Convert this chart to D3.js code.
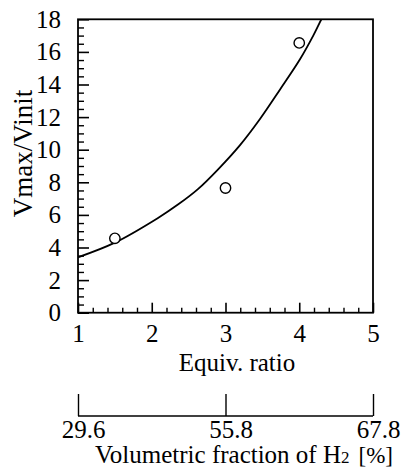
<!DOCTYPE html>
<html>
<head>
<meta charset="utf-8">
<script src="https://cdn.jsdelivr.net/npm/d3@7"></script>
<style>
  html, body { margin: 0; padding: 0; background: #fff; }
  svg { display: block; }
  svg text { font-family: "Liberation Serif", "Times New Roman", Times, "Nimbus Roman", "DejaVu Serif", serif; fill: #000; }
</style>
</head>
<body>
<svg id="chart" width="412" height="468"></svg>
<script>
// ---- data ----
const xTicks = [1, 2, 3, 4, 5];
const yTicks = [0, 2, 4, 6, 8, 10, 12, 14, 16, 18];
const measuredX = [1.5, 3, 4];
const measuredY = [4.56, 7.65, 16.55];
const fitX = [1.0, 1.5, 2.08, 2.36, 2.63, 2.9, 3.2, 3.47, 3.74, 4.01, 4.19, 4.3, 4.36];
const fitY = [3.4, 4.3, 5.8, 6.65, 7.6, 8.8, 10.3, 11.9, 13.7, 15.55, 17.0, 18.0, 18.5];
const h2Positions = [1, 3, 5];          // positions on the equiv. ratio scale
const h2Labels = ["29.6", "55.8", "67.8"];

// ---- layout ----
const FONT = '"Liberation Serif", "Times New Roman", Times, serif';
const svg = d3.select("#chart");
const L = 78, R = 373, T = 19.3, B = 312.7;
const x = d3.scaleLinear().domain([1, 5]).range([L, R]);
const y = d3.scaleLinear().domain([0, 18]).range([B, T]);

// minor ticks
const xMinor = d3.range(1, 5.0001, 0.2).filter(v => Math.abs(v - Math.round(v)) > 1e-6);
const yMinor = d3.range(0, 18.0001, 0.5).filter(v => Math.abs(v / 2 - Math.round(v / 2)) > 1e-6);

const tickFont = "25px";

function styleAxis(g) {
  g.attr("font-family", FONT).attr("font-size", null);
  g.selectAll(".tick line").attr("stroke", "#000");
  g.selectAll(".tick text").attr("font-family", FONT).style("font-size", tickFont);
}

// y axis major
const gy = svg.append("g").attr("transform", `translate(${L},0)`)
  .call(d3.axisLeft(y).tickValues(yTicks).tickSizeInner(-11).tickSizeOuter(0).tickPadding(17)
    .tickFormat(d3.format("d")));
gy.select(".domain").remove();
styleAxis(gy);
gy.selectAll(".tick line").attr("stroke-width", 1.6);

// y axis minor
const gym = svg.append("g").attr("transform", `translate(${L},0)`)
  .call(d3.axisLeft(y).tickValues(yMinor).tickSizeInner(-6).tickSizeOuter(0).tickFormat(""));
gym.select(".domain").remove();
gym.selectAll(".tick line").attr("stroke", "#000").attr("stroke-width", 1.4);

// x axis major
const gx = svg.append("g").attr("transform", `translate(0,${B})`)
  .call(d3.axisBottom(x).tickValues(xTicks).tickSizeInner(-10).tickSizeOuter(0).tickPadding(12)
    .tickFormat(d3.format("d")));
gx.select(".domain").remove();
styleAxis(gx);
gx.selectAll(".tick line").attr("stroke-width", 1.6);

// x axis minor
const gxm = svg.append("g").attr("transform", `translate(0,${B})`)
  .call(d3.axisBottom(x).tickValues(xMinor).tickSizeInner(-5).tickSizeOuter(0).tickFormat(""));
gxm.select(".domain").remove();
gxm.selectAll(".tick line").attr("stroke", "#000").attr("stroke-width", 1.4);

// frame
svg.append("rect").attr("x", L).attr("y", T).attr("width", R - L).attr("height", B - T)
  .attr("fill", "none").attr("stroke", "#000").attr("stroke-width", 1.8);

// clip
svg.append("clipPath").attr("id", "clip").append("rect")
  .attr("x", L).attr("y", T).attr("width", R - L).attr("height", B - T);

// fitted curve
const fitData = fitX.map((v, i) => [v, fitY[i]]);
svg.append("path").datum(fitData)
  .attr("clip-path", "url(#clip)")
  .attr("fill", "none").attr("stroke", "#000").attr("stroke-width", 1.8)
  .attr("d", d3.line().x(d => x(d[0])).y(d => y(d[1])).curve(d3.curveCatmullRom.alpha(0.5)));

// measured points
svg.append("g").selectAll("circle").data(measuredX.map((v, i) => [v, measuredY[i]]))
  .join("circle")
  .attr("cx", d => x(d[0])).attr("cy", d => y(d[1])).attr("r", 5.2)
  .attr("fill", "#fff").attr("stroke", "#000").attr("stroke-width", 1.4);

// axis titles
svg.append("text").attr("font-family", FONT)
  .attr("transform", `translate(32,${153.5}) rotate(-90)`)
  .attr("text-anchor", "middle").style("font-size", "27px").text("Vmax/Vinit");
svg.append("text").attr("font-family", FONT).attr("x", 237).attr("y", 370.5).attr("text-anchor", "middle")
  .style("font-size", "25px").text("Equiv. ratio");

// second (H2 fraction) axis
const h2Y = 416;
const gh = svg.append("g").attr("transform", `translate(0,${h2Y})`)
  .call(d3.axisBottom(x).tickValues(h2Positions).tickSizeInner(-22).tickSizeOuter(0).tickPadding(4)
    .tickFormat((d, i) => h2Labels[i]));
gh.select(".domain").attr("stroke", "#000").attr("stroke-width", 1.4)
  .attr("d", `M${x(1)},0H${x(5)}`);
styleAxis(gh);
gh.selectAll(".tick line").attr("stroke-width", 1.4);
gh.selectAll(".tick text").attr("dx", 5).attr("dy", "0.71em");

const t2 = svg.append("text").attr("font-family", FONT).attr("x", 95).attr("y", 462.5).style("font-size", "25px");
t2.append("tspan").text("Volumetric fraction of H");
t2.append("tspan").style("font-size", "17px").text("2");
t2.append("tspan").style("font-size", "23px").attr("dx", 9).text("[%]");
</script>
</body>
</html>
